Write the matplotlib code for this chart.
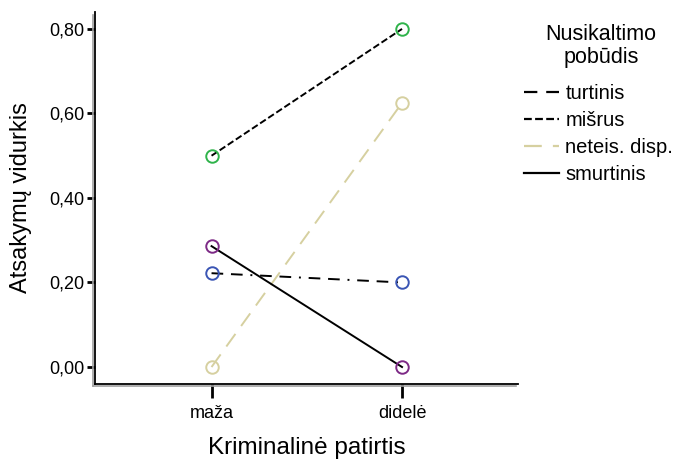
import matplotlib.pyplot as plt
from matplotlib.lines import Line2D
import matplotlib.transforms as mtransforms

plt.rcParams['font.family'] = ['Liberation Sans', 'DejaVu Sans']

# Data
categories = ['maža', 'didelė']
series_names = ['turtinis', 'mišrus', 'neteis. disp.', 'smurtinis']
turtinis = [0.222, 0.200]
misrus = [0.500, 0.800]
neteis = [0.000, 0.625]
smurtinis = [0.286, 0.000]
y_ticks = [0.0, 0.2, 0.4, 0.6, 0.8]
y_tick_labels = ['0,00', '0,20', '0,40', '0,60', '0,80']

series_values = [turtinis, misrus, neteis, smurtinis]
line_colors = ['black', 'black', '#d6d0a0', 'black']
marker_colors = ['#3a55b4', '#2fb34b', '#d6d0a0', '#7d2a86']
dash_styles = [(0, (6, 4, 6, 4, 1, 4)), (0, (3.5, 1.5)), (0, (8, 5)), '-']

fig = plt.figure(figsize=(6.81, 4.62), dpi=100)
ax = fig.add_axes([0.140, 0.169, 0.621, 0.805])

x = list(range(len(categories)))
for vals, lc, mc, ls in zip(series_values, line_colors, marker_colors, dash_styles):
    ax.plot(x, vals, color=lc, linestyle=ls, linewidth=1.4, zorder=2)
    ax.plot(x, vals, linestyle='none', marker='o', markersize=9, markerfacecolor='none',
            markeredgecolor=mc, markeredgewidth=1.4, zorder=3)

ax.set_xlim(-0.61, 1.61)
ax.set_ylim(-0.04, 0.84)
ax.set_xticks(x)
ax.set_xticklabels(categories, fontsize=13)
ax.set_yticks(y_ticks)
ax.set_yticklabels(y_tick_labels, fontsize=13)

for s in ['top', 'right']:
    ax.spines[s].set_visible(False)
ax.spines['left'].set_linewidth(1.3)
ax.spines['bottom'].set_linewidth(1.3)
ax.tick_params(axis='y', length=6, width=2, pad=2)
ax.tick_params(axis='x', length=10, width=2, pad=5)

# SPSS-style gray double line on axes
off_left = mtransforms.offset_copy(ax.transAxes, fig=fig, x=-2.5, y=-2.5, units='dots')
ax.add_line(Line2D([0, 0], [0, 1], transform=off_left, color='#a0a0a0', lw=1.2, clip_on=False))
ax.add_line(Line2D([0, 1], [0, 0], transform=off_left, color='#a0a0a0', lw=1.2, clip_on=False))

ax.set_ylabel('Atsakymų vidurkis', fontsize=17, labelpad=12)
ax.set_xlabel('Kriminalinė patirtis', fontsize=17.5, labelpad=11)

# Legend
fig.text(601 / 681, 1 - 46 / 462, 'Nusikaltimo\npobūdis', ha='center', va='center',
         fontsize=15.5, linespacing=1.15)
handles = [Line2D([0], [0], color=lc, linestyle=ls, lw=1.6)
           for lc, ls in zip(line_colors, dash_styles)]
leg = fig.legend(handles, series_names, loc='upper left',
                 bbox_to_anchor=(524 / 681, 1 - 84 / 462), frameon=False,
                 fontsize=14.5, handlelength=1.75, handletextpad=0.3,
                 labelspacing=0.40, borderpad=0, borderaxespad=0)

fig.savefig('out.png', dpi=100)
